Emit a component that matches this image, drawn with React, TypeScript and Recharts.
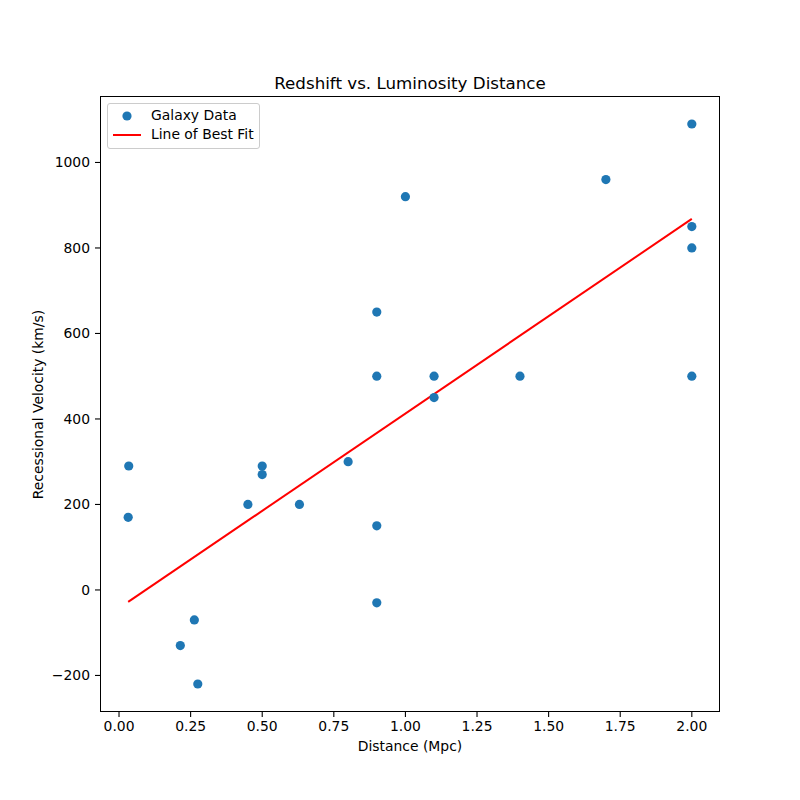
import {
    ComposedChart,
    Scatter,
    Line,
    XAxis,
    YAxis,
    Legend,
} from "recharts";

// Hubble-style galaxy measurements
const distances = [
    0.032, 0.034, 0.214, 0.263, 0.275, 0.45, 0.5, 0.5, 0.63, 0.8, 0.9, 0.9,
    0.9, 0.9, 1.0, 1.1, 1.1, 1.4, 1.7, 2.0, 2.0, 2.0, 2.0,
];
const velocities = [
    170, 290, -130, -70, -220, 200, 290, 270, 200, 300, -30, 650, 150, 500,
    920, 450, 500, 500, 960, 500, 850, 800, 1090,
];

// best fit line endpoints
const fitX = [0.032, 2.0];
const fitY = [-28, 868];

const xTicks = [0, 0.25, 0.5, 0.75, 1.0, 1.25, 1.5, 1.75, 2.0];
const yTicks = [-200, 0, 200, 400, 600, 800, 1000];

const galaxyData = distances.map((d, i) => ({ x: d, y: velocities[i] }));
const fitData = fitX.map((d, i) => ({ x: d, y: fitY[i] }));

const FONT = "'DejaVu Sans', sans-serif";
const BLUE = "#1f77b4";

const fmtY = (v: number) => (v < 0 ? "\u2212" + Math.abs(v) : String(v));

const LegendBox = () => (
    <div
        style={{
            position: "absolute",
            left: 107,
            top: 103,
            width: 151,
            height: 44,
            border: "1px solid #cccccc",
            borderRadius: 3,
            background: "rgba(255,255,255,0.8)",
            fontFamily: FONT,
            fontSize: 13.9,
            color: "#000",
        }}
    >
        <svg width={40} height={44} style={{ position: "absolute", left: 0, top: 0 }}>
            <circle cx={19} cy={12} r={4.6} fill={BLUE} />
            <line x1={5} y1={31} x2={33} y2={31} stroke="red" strokeWidth={2} />
        </svg>
        <div style={{ position: "absolute", left: 43, top: 3, lineHeight: "17px" }}>
            Galaxy Data
        </div>
        <div style={{ position: "absolute", left: 43, top: 22, lineHeight: "17px" }}>
            Line of Best Fit
        </div>
    </div>
);

const App = () => {
    return (
        <div
            style={{
                position: "absolute",
                left: 0,
                top: 0,
                width: 800,
                height: 800,
                background: "#fff",
                fontFamily: FONT,
            }}
        >
            <ComposedChart
                width={800}
                height={800}
                margin={{ top: 96, right: 80, left: 40, bottom: 58 }}
            >
                <XAxis
                    type="number"
                    dataKey="x"
                    domain={[-0.0664, 2.0984]}
                    ticks={xTicks}
                    tickFormatter={(v: number) => v.toFixed(2)}
                    allowDataOverflow
                    height={30}
                    axisLine={false}
                    tickSize={5}
                    tickMargin={4}
                    tickLine={{ stroke: "#000", strokeWidth: 1.1 }}
                    tick={{ fill: "#000", fontSize: 13.9, fontFamily: FONT }}
                />
                <YAxis
                    type="number"
                    dataKey="y"
                    domain={[-285.5, 1155.5]}
                    ticks={yTicks}
                    tickFormatter={fmtY}
                    allowDataOverflow
                    width={60}
                    axisLine={false}
                    tickSize={5}
                    tickMargin={5}
                    tickLine={{ stroke: "#000", strokeWidth: 1.1 }}
                    tick={{ fill: "#000", fontSize: 13.9, fontFamily: FONT }}
                />
                <Legend content={() => null} />
                <Scatter
                    name="Galaxy Data"
                    data={galaxyData}
                    fill={BLUE}
                    shape={(p: any) => <circle cx={p.cx} cy={p.cy} r={4.6} fill={BLUE} />}
                    isAnimationActive={false}
                />
                <Line
                    name="Line of Best Fit"
                    data={fitData}
                    dataKey="y"
                    type="linear"
                    stroke="red"
                    strokeWidth={2}
                    dot={false}
                    activeDot={false}
                    isAnimationActive={false}
                />
            </ComposedChart>

            {/* axes frame */}
            <div
                style={{
                    position: "absolute",
                    left: 100,
                    top: 96,
                    width: 620,
                    height: 616,
                    boxSizing: "border-box",
                    border: "1.1px solid #000",
                    pointerEvents: "none",
                }}
            />

            <div
                style={{
                    position: "absolute",
                    left: 100,
                    width: 620,
                    top: 73,
                    textAlign: "center",
                    fontSize: 16.7,
                    lineHeight: "20px",
                    color: "#000",
                }}
            >
                Redshift vs. Luminosity Distance
            </div>

            <div
                style={{
                    position: "absolute",
                    left: 100,
                    width: 620,
                    top: 738,
                    textAlign: "center",
                    fontSize: 13.9,
                    lineHeight: "17px",
                    color: "#000",
                }}
            >
                Distance (Mpc)
            </div>

            <div
                style={{
                    position: "absolute",
                    left: 38 - 150,
                    width: 300,
                    top: 404 - 8.5,
                    textAlign: "center",
                    fontSize: 13.9,
                    lineHeight: "17px",
                    color: "#000",
                    transform: "rotate(-90deg)",
                }}
            >
                Recessional Velocity (km/s)
            </div>

            <LegendBox />
        </div>
    );
};

export default App;
